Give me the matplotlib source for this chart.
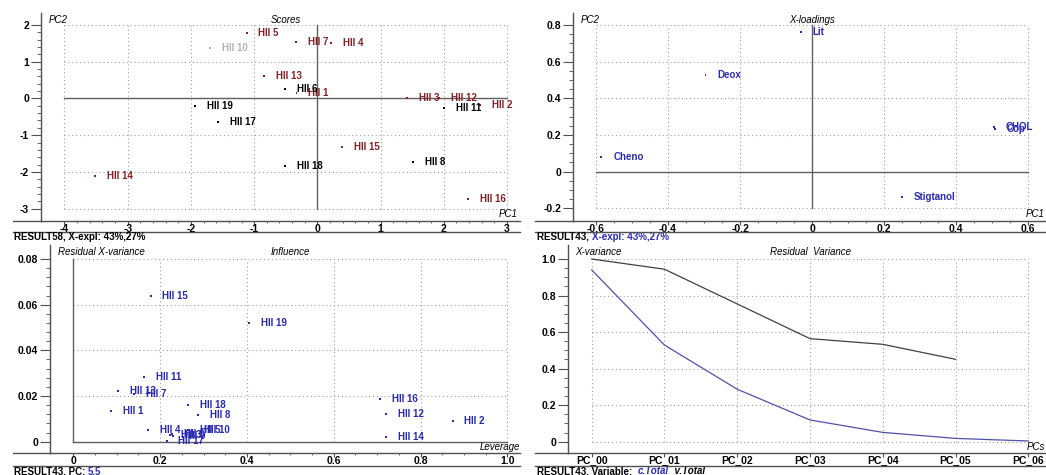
import numpy as np
import matplotlib
matplotlib.use("Agg")
import matplotlib.pyplot as plt
from matplotlib.lines import Line2D

plt.rcParams['font.family'] = ['Liberation Sans', 'DejaVu Sans']
plt.rcParams['font.weight'] = 'bold'
plt.rcParams['axes.unicode_minus'] = False

W, H = 1046, 475

# ---- Scores (PC1 / PC2)
score_names = ["HII 1", "HII 2", "HII 3", "HII 4", "HII 5", "HII 6", "HII 7", "HII 8",
               "HII 10", "HII 11", "HII 12", "HII 13", "HII 14", "HII 15", "HII 16",
               "HII 17", "HII 18", "HII 19"]
score_pc1 = [-0.33, 2.58, 1.42, 0.22, -1.12, -0.51, -0.34, 1.51,
             -1.70, 2.00, 1.93, -0.84, -3.51, 0.39, 2.39, -1.57, -0.51, -1.93]
score_pc2 = [0.16, -0.17, 0.00, 1.52, 1.79, 0.27, 1.55, -1.74,
             1.37, -0.26, 0.02, 0.62, -2.11, -1.31, -2.74, -0.65, -1.84, -0.20]
score_group = ["r", "r", "r", "r", "r", "k", "r", "k",
               "g", "k", "r", "r", "r", "r", "r", "k", "k", "k"]

# ---- X-loadings
load_names = ["Lit", "Deox", "Cheno", "CHOL", "Cop", "Stigtanol"]
load_pc1 = [-0.032, -0.296, -0.585, 0.505, 0.507, 0.25]
load_pc2 = [0.76, 0.527, 0.082, 0.245, 0.231, -0.14]

# ---- Influence (leverage / residual X-variance)
infl_names = ["HII 1", "HII 2", "HII 3", "HII 4", "HII 5", "HII 6", "HII 7", "HII 8",
              "HII 9", "HII 10", "HII 11", "HII 12", "HII 13", "HII 14", "HII 15",
              "HII 16", "HII 17", "HII 18", "HII 19"]
infl_lev = [0.087, 0.874, 0.222, 0.173, 0.264, 0.227, 0.140, 0.288, 0.230, 0.273,
            0.163, 0.720, 0.104, 0.720, 0.178, 0.707, 0.215, 0.265, 0.405]
infl_res = [0.0134, 0.0091, 0.0030, 0.0051, 0.0051, 0.0035, 0.0210, 0.0117, 0.0025, 0.0051,
            0.0282, 0.0121, 0.0222, 0.0019, 0.0639, 0.0186, 0.0005, 0.0161, 0.0519]

# ---- Residual variance
pc_labels = ["PC_00", "PC_01", "PC_02", "PC_03", "PC_04", "PC_05", "PC_06"]
calib_total = [0.94, 0.529, 0.287, 0.119, 0.051, 0.018, 0.004]
valid_total = [1.0, 0.944, 0.754, 0.564, 0.533, 0.451]

AXIS = '#505050'
GRID = '#a0a0a0'
RED = '#842222'
BLUE = '#2a2ab0'
LINEBLUE = '#5050a8'
group_col = {"r": RED, "k": "black", "g": "#b4b4b4"}

fig = plt.figure(figsize=(W / 100, H / 100), dpi=100)


def fx(px):
    return px / W


def fy(py):
    return 1 - py / H


def panel(box, xa, ya, ext_left, sep_y):
    l, t, r, b = box
    ax = fig.add_axes([fx(l), fy(b), (r - l) / W, (b - t) / H])
    v0, p0, v1, p1 = xa
    s = (v1 - v0) / (p1 - p0)
    ax.set_xlim(v0 + (l - p0) * s, v0 + (r - p0) * s)
    v0, p0, v1, p1 = ya
    s = (v1 - v0) / (p1 - p0)
    ax.set_ylim(v0 + (b - p0) * s, v0 + (t - p0) * s)
    ax.patch.set_alpha(0)
    ax.spines['top'].set_visible(False)
    ax.spines['right'].set_visible(False)
    for side in ('left', 'bottom'):
        ax.spines[side].set_color(AXIS)
        ax.spines[side].set_linewidth(1)
    ax.tick_params(axis='y', which='major', length=7, width=0.8, color=AXIS, pad=1.5, labelsize=7.5)
    ax.tick_params(axis='y', which='minor', length=3, width=0.6, color=AXIS)
    ax.tick_params(axis='x', which='major', length=3, width=0.8, color=AXIS, pad=-0.8, labelsize=7.5)
    ax.tick_params(axis='x', which='minor', length=1.5, width=0.6, color=AXIS)
    # axis line runs on left of the y axis, separator under the tick labels
    fig.add_artist(Line2D([fx(ext_left), fx(l)], [fy(b)] * 2, color=AXIS, lw=1))
    fig.add_artist(Line2D([fx(ext_left), fx(r)], [fy(sep_y)] * 2, color=AXIS, lw=1))
    return ax


def grid(ax, xs, ys, xr, yr):
    ax.vlines(xs, yr[0], yr[1], colors=GRID, linestyles=(0, (1, 2.5)), lw=0.8, zorder=0)
    ax.hlines(ys, xr[0], xr[1], colors=GRID, linestyles=(0, (1, 2.5)), lw=0.8, zorder=0)


def fmt(v, nd):
    return "0" if abs(v) < 1e-9 else f"{v:.{nd}f}"


def label_points(ax, xs, ys, names, colors):
    ax.scatter(xs, ys, s=2, c=colors, marker='s', linewidths=0, zorder=3)
    for x, y, n, c in zip(xs, ys, names, colors):
        ax.annotate(n, (x, y), xytext=(8.5, 0), textcoords='offset points', va='center',
                    ha='left', color=c, fontsize=7, annotation_clip=False, zorder=4)


def ftext(x, y, s, ha='left', **kw):
    return fig.text(fx(x), fy(y), s, ha=ha, va='center', fontsize=7, **kw)


def caption(ax, x, y, parts):
    t = ftext(x, y, parts[0][0], color=parts[0][1], style=parts[0][2])
    for s, c, st in parts[1:]:
        t = ax.annotate(s, xy=(1, 0.5), xycoords=t, va='center', ha='left', fontsize=7,
                        color=c, style=st, annotation_clip=False)


# ---------------- Scores
ax1 = panel((41, 13, 520, 221), (-4, 64.5, 3, 507), (2, 25, -3, 208.6), 13, 232)
xt = np.arange(-4, 4)
yt = np.arange(-3, 3)
ax1.set_xticks(xt, [fmt(v, 0) for v in xt])
ax1.set_yticks(yt, [fmt(v, 0) for v in yt])
ax1.set_xticks(np.arange(-4, 3.01, 0.2), minor=True)
ax1.set_yticks(np.arange(-3, 2.01, 0.2), minor=True)
grid(ax1, xt[xt != 0], yt[yt != 0], (-4, 3), (-3, 2))
ax1.plot([-4, 3], [0, 0], color='#606060', lw=1, zorder=1)
ax1.plot([0, 0], [-3, 2], color='#606060', lw=1, zorder=1)
label_points(ax1, score_pc1, score_pc2, score_names, [group_col[g] for g in score_group])

# ---------------- X-loadings
ax2 = panel((573, 13, 1046, 221), (-0.6, 596, 0.6, 1028.3), (0.8, 25, -0.2, 208.3), 535, 232)
xt = np.round(np.arange(-0.6, 0.61, 0.2), 2)
yt = np.round(np.arange(-0.2, 0.81, 0.2), 2)
ax2.set_xticks(xt, [fmt(v, 1) for v in xt])
ax2.set_yticks(yt, [fmt(v, 1) for v in yt])
ax2.set_xticks(np.arange(-0.6, 0.61, 0.05), minor=True)
ax2.set_yticks(np.arange(-0.2, 0.81, 0.05), minor=True)
grid(ax2, xt[xt != 0], yt[yt != 0], (-0.6, 0.6), (-0.2, 0.8))
ax2.plot([-0.6, 0.6], [0, 0], color='#606060', lw=1, zorder=1)
ax2.plot([0, 0], [-0.2, 0.8], color='#606060', lw=1, zorder=1)
label_points(ax2, load_pc1, load_pc2, load_names, [BLUE] * len(load_names))

# ---------------- Influence
ax3 = panel((50, 245, 520, 453), (0, 73.3, 1.0, 507.3), (0.08, 259, 0, 441.7), 13, 466)
xt = np.round(np.arange(0, 1.01, 0.2), 2)
yt = np.round(np.arange(0, 0.081, 0.02), 3)
ax3.set_xticks(xt, [fmt(v, 1) for v in xt])
ax3.set_yticks(yt, [fmt(v, 2) for v in yt])
ax3.set_xticks(np.arange(0, 1.01, 0.05), minor=True)
ax3.set_yticks(np.arange(0, 0.0801, 0.004), minor=True)
grid(ax3, xt[xt != 0], yt[yt != 0], (0, 1.0), (0, 0.08))
ax3.plot([0, 1.0], [0, 0], color='#606060', lw=1, zorder=1)
ax3.plot([0, 0], [0, 0.08], color='#606060', lw=1, zorder=1)
label_points(ax3, infl_lev, infl_res, infl_names, [BLUE] * len(infl_names))

# ---------------- Residual variance
ax4 = panel((568, 245, 1046, 453), (0, 591.7, 6, 1028.3), (1.0, 259, 0, 441.7), 535, 466)
xi = np.arange(len(pc_labels))
yt = np.round(np.arange(0, 1.01, 0.2), 2)
ax4.set_xticks(xi, pc_labels)
ax4.set_yticks(yt, [fmt(v, 1) for v in yt])
ax4.set_yticks(np.arange(0, 1.001, 0.05), minor=True)
grid(ax4, xi, yt, (0, 6), (0, 1.0))
ax4.plot(xi, calib_total, color=LINEBLUE, lw=0.9, zorder=2)
ax4.plot(xi[:len(valid_total)], valid_total, color='#404040', lw=0.9, zorder=2)

# ---------------- axis titles
ital = dict(style='italic', weight='normal', color='black')
ftext(49, 20, "PC2", **ital)
ftext(286, 20, "Scores", ha='center', **ital)
ftext(518, 214, "PC1", ha='right', **ital)
ftext(581, 20, "PC2", **ital)
ftext(812, 20, "X-loadings", ha='center', **ital)
ftext(1045, 214, "PC1", ha='right', **ital)
ftext(58, 252, "Residual X-variance", **ital)
ftext(290, 252, "Influence", ha='center', **ital)
ftext(520, 447, "Leverage", ha='right', **ital)
ftext(575, 252, "X-variance", **ital)
ftext(810, 252, "Residual  Variance", ha='center', **ital)
ftext(1045, 447, "PCs", ha='right', **ital)

# ---------------- captions
caption(ax1, 14, 237, [("RESULT58, X-expl: 43%,27%", 'black', 'normal')])
caption(ax2, 537, 237, [("RESULT43, ", 'black', 'normal'), ("X-expl: 43%,27%", BLUE, 'normal')])
caption(ax3, 14, 471, [("RESULT43, PC: ", 'black', 'normal'), ("5,5", BLUE, 'normal')])
caption(ax4, 537, 471, [("RESULT43, Variable:  ", 'black', 'normal'), ("c.Total", BLUE, 'italic'),
                        ("  v.Total", 'black', 'italic')])

fig.savefig("out.png", dpi=100)
